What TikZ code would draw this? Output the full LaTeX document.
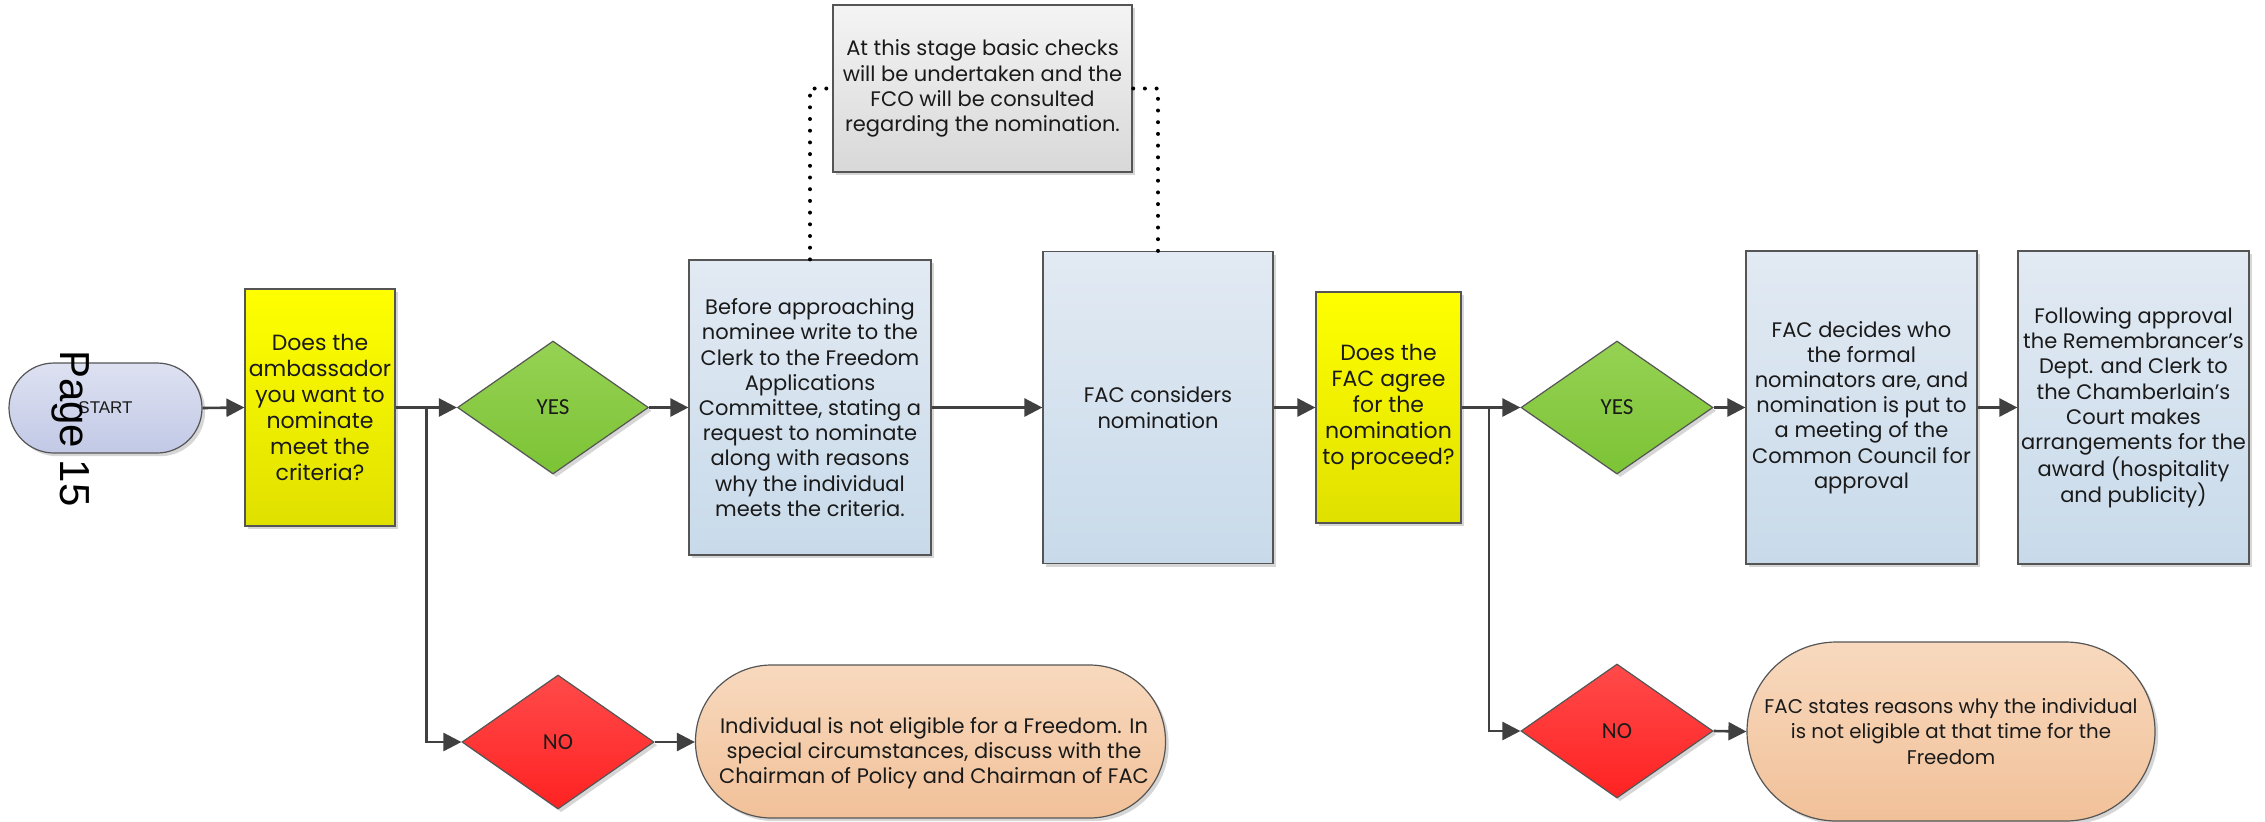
\documentclass[tikz,border=0pt]{standalone}
\usepackage{fontspec}
\setmainfont{Poppins}
\newfontfamily\arialf{Liberation Sans}
\newfontfamily\calibrif{Carlito}
\usetikzlibrary{shapes.geometric,arrows.meta,shadows}

\definecolor{edge}{HTML}{555555}
\definecolor{ink}{HTML}{1A1A1A}
\definecolor{wire}{HTML}{404040}
\definecolor{yelT}{HTML}{FFFF00}
\definecolor{yelB}{HTML}{E0E000}
\definecolor{bluT}{HTML}{E2EAF3}
\definecolor{bluB}{HTML}{C8DAEA}
\definecolor{gryT}{HTML}{F4F4F4}
\definecolor{gryB}{HTML}{D8D8D8}
\definecolor{grnT}{HTML}{96D254}
\definecolor{grnB}{HTML}{7CC335}
\definecolor{redT}{HTML}{FF4A4A}
\definecolor{redB}{HTML}{FF2222}
\definecolor{orgT}{HTML}{F8D9BE}
\definecolor{orgB}{HTML}{F1C199}
\definecolor{stT}{HTML}{DDE1F1}
\definecolor{stB}{HTML}{C2C9E6}

\newcommand\boxfont{\fontsize{10.5}{12.6}\selectfont}
\newcommand\askfont{\fontsize{11}{13}\selectfont}
\newcommand\smallboxfont{\fontsize{9.9}{12.85}\selectfont}

\tikzset{
  shapebase/.style={draw=edge, line width=0.6pt, text=ink, align=center,
    inner sep=1pt,
    drop shadow={shadow xshift=1.6pt, shadow yshift=-1.6pt, fill=black, opacity=0.16}},
  question/.style={shapebase, rectangle, top color=yelT, bottom color=yelB, font=\askfont},
  process/.style={shapebase, rectangle, top color=bluT, bottom color=bluB, font=\boxfont},
  notebox/.style={shapebase, rectangle, top color=gryT, bottom color=gryB, font=\boxfont},
  yesdia/.style={shapebase, diamond, aspect=1.44, top color=grnT, bottom color=grnB,
    font=\calibrif\fontsize{11.5}{13}\selectfont},
  nodia/.style={shapebase, diamond, aspect=1.44, top color=redT, bottom color=redB,
    font=\calibrif\fontsize{11.5}{13}\selectfont},
  endcap/.style={shapebase, rectangle, top color=orgT, bottom color=orgB},
  flow/.style={draw=wire, line width=1.3pt, -{Triangle[length=9pt,width=9pt]}},
  wireline/.style={draw=wire, line width=1.3pt},
  dotline/.style={draw=black, line width=2pt, line cap=round, dash pattern=on 0pt off 5.85pt}
}

\begin{document}
\begin{tikzpicture}[x=0.5pt,y=-0.5pt]
\useasboundingbox (0,0) rectangle (2265,821);

% start terminator
\node[shapebase, rectangle, rounded corners=22.5pt, top color=stT, bottom color=stB,
      minimum width=96.5pt, minimum height=45pt, font=\arialf\fontsize{8.5}{10}\selectfont]
      (start) at (105.5,408) {START};

% first decision and its branches
\node[question, minimum width=75pt, minimum height=118.5pt] (q1) at (320,407.5)
  {Does the\\ambassador\\you want to\\nominate\\meet the\\criteria?};
\node[yesdia, minimum width=95.5pt, minimum height=66.5pt] (yes1) at (553,407.5) {YES};
\node[nodia, minimum width=96pt, minimum height=67pt] (no1) at (558,742) {NO};

\node[process, minimum width=121pt, minimum height=147.5pt] (blue1) at (810,407.5)
  {Before approaching\\nominee write to the\\Clerk to the Freedom\\Applications\\Committee, stating a\\request to nominate\\along with reasons\\why the individual\\meets the criteria.};

\node[notebox, minimum width=149.5pt, minimum height=83.5pt] (note) at (982.5,88.5)
  {At this stage basic checks\\will be undertaken and the\\FCO will be consulted\\regarding the nomination.};

\node[process, minimum width=115pt, minimum height=156pt] (blue2) at (1158,407.5)
  {FAC considers\\nomination};

% second decision and its branches
\node[question, minimum width=72.5pt, minimum height=115.5pt] (q2) at (1388.5,407.5)
  {Does the\\FAC agree\\for the\\nomination\\to proceed?};
\node[yesdia, minimum width=96pt, minimum height=66.5pt] (yes2) at (1617,407.5) {YES};
\node[nodia, minimum width=96pt, minimum height=67pt] (no2) at (1617,731) {NO};

\node[process, minimum width=115.5pt, minimum height=156.5pt] (blue3) at (1861.5,407.5)
  {FAC decides who\\the formal\\nominators are, and\\nomination is put to\\a meeting of the\\Common Council for\\approval};
\node[process, minimum width=115.5pt, minimum height=156.5pt] (blue4) at (2133.5,407.5)
  {Following approval\\the Remembrancer’s\\Dept. and Clerk to\\the Chamberlain’s\\Court makes\\arrangements for the\\award (hospitality\\and publicity)};

% end terminators
\node[endcap, rounded corners=38pt, minimum width=235pt, minimum height=76.5pt] (end1) at (930.5,741.5) {};
\node[text=ink, align=center, font=\boxfont] (end1txt) at (934,753)
  {Individual is not eligible for a Freedom. In\\special circumstances, discuss with the\\Chairman of Policy and Chairman of FAC};
\node[endcap, rounded corners=44.75pt, minimum width=204pt, minimum height=89.5pt, font=\smallboxfont] (end2) at (1951,731.5)
  {FAC states reasons why the individual\\is not eligible at that time for the\\Freedom};

% junctions on the decision outputs
\coordinate (j1) at (426.5,407.5);
\coordinate (j2) at (1489,407.5);

% connectors
\draw[flow] (start.east) -- (q1.west);
\draw[wireline] (q1.east) -- (j1);
\draw[flow] (j1) -- (yes1.west);
\draw[flow] (j1) |- (no1.west);
\draw[flow] (yes1.east) -- (blue1.west);
\draw[flow] (no1.east) -- (end1.west |- no1.east);
\draw[flow] (blue1.east) -- (blue2.west);
\draw[flow] (blue2.east) -- (q2.west);
\draw[wireline] (q2.east) -- (j2);
\draw[flow] (j2) -- (yes2.west);
\draw[flow] (j2) |- (no2.west);
\draw[flow] (yes2.east) -- (blue3.west);
\draw[flow] (no2.east) -- (end2.west);
\draw[flow] (blue3.east) -- (blue4.west);

% dotted links to the note
\draw[dotline] (blue1.north) |- (note.west);
\draw[dotline] (blue2.north) |- (note.east);

% page label laid over the start shape
\node[rotate=-90, anchor=base, text=black, font=\arialf\fontsize{21}{25}\selectfont] (pg) at (60,428.5) {Page 15};
\end{tikzpicture}
\end{document}
